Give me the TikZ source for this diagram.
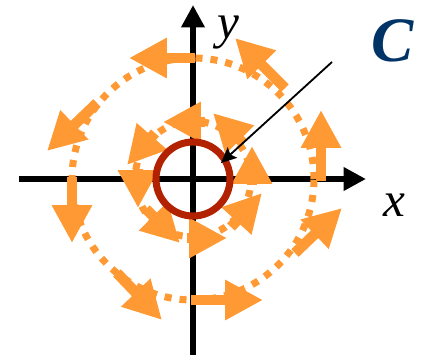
\documentclass[tikz,border=0pt]{standalone}
\usepackage{fontspec}
\setmainfont{Liberation Serif}
\usetikzlibrary{arrows.meta}
\definecolor{flowor}{RGB}{255,153,51}
\definecolor{circred}{RGB}{178,34,0}
\definecolor{cblue}{RGB}{0,51,102}

\begin{document}
\begin{tikzpicture}[
  x=0.025cm, y=0.025cm,
  axis/.style={line width=4pt, -{Triangle[length=16pt, width=16pt]}},
  ring/.style={draw=flowor, line width=5pt, dash pattern=on 5pt off 5.7pt},
  swirl/.style={draw=flowor, line width=7.5pt, -{Triangle[length=27pt, width=27pt]}},
  pointer/.style={line width=1.3pt, -{Stealth[length=11pt, width=10pt, inset=2pt]}},
  lbl/.style={font=\fontsize{35}{37}\selectfont\itshape, inner sep=0pt}
]
\useasboundingbox (-193,-176) rectangle (233,179);

% axes
\coordinate (xl) at (-174,0);
\coordinate (xr) at (173,0);
\coordinate (yb) at (0,-176);
\coordinate (yt) at (0,174);
\draw[axis] (xl) -- (xr);
\draw[axis] (yb) -- (yt);
\node[lbl] (xlab) at (201,-26) {x};
\node[lbl] (ylab) at (35,146) {y};

% dotted rings
\draw[ring] (0,0) circle (121);
\draw[ring] (0,0) circle (58);

% outer ring arrows
\draw[swirl] (2,121)     -- (-64,121);
\draw[swirl] (-96,76)    -- (-146,28);
\draw[swirl] (-121,2)    -- (-121,-64);
\draw[swirl] (-76,-94)   -- (-31,-141);
\draw[swirl] (-2,-121)   -- (70,-121);
\draw[swirl] (102,-74)   -- (149,-29);
\draw[swirl] (128,-2)    -- (128,69);
\draw[swirl] (92,91)     -- (42,141);

% inner ring arrows
\draw[swirl] (12,57)     -- (-30,57);
\draw[swirl] (-38,46)    -- (-66,14);
\draw[swirl] (-55,10)    -- (-55,-29);
\draw[swirl] (-47,-30)   -- (-13,-64);
\draw[swirl] (-6,-59)    -- (34,-59);
\draw[swirl] (38,-48)    -- (69,-14);
\draw[swirl] (59,-6)     -- (59,33);
\draw[swirl] (50,36)     -- (20,66);

% curve C
\draw[circred, line width=5pt] (0,0) circle (37);
\node[font=\fontsize{45}{48}\selectfont\bfseries\itshape, text=cblue, inner sep=0pt]
  (clab) at (200,138) {C};
\coordinate (ptr) at (139,117);
\coordinate (hit) at (28,16);
\draw[pointer] (ptr) -- (hit);
\end{tikzpicture}
\end{document}
